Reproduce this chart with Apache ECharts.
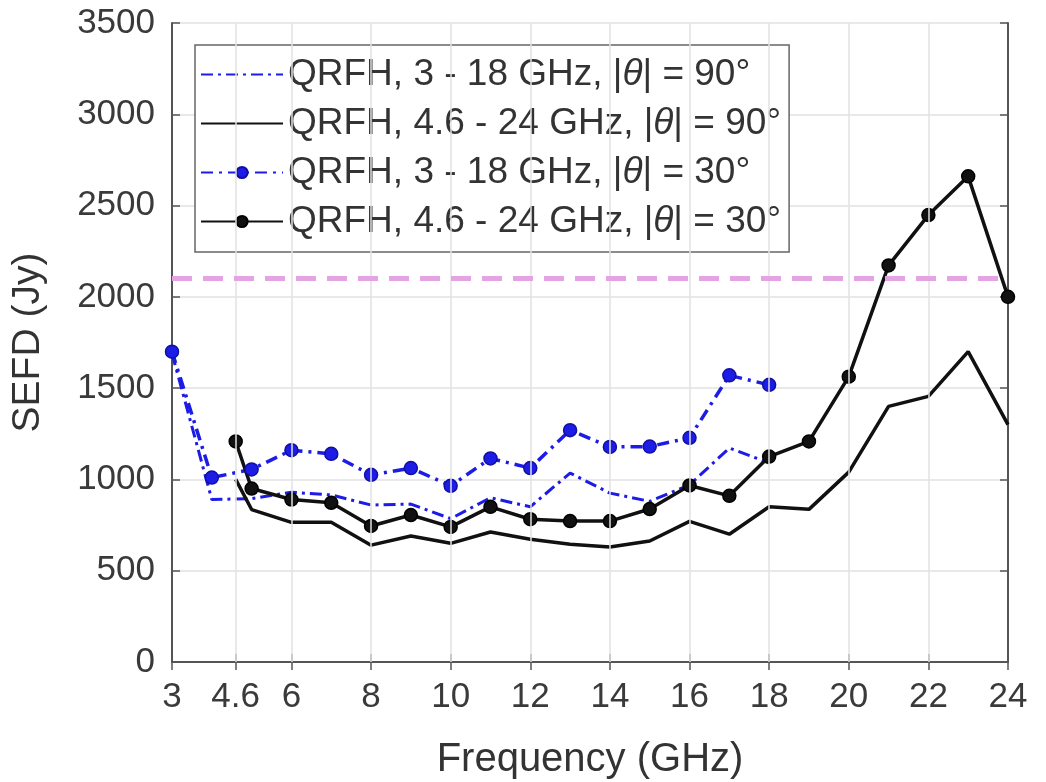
<!DOCTYPE html>
<html>
<head>
<meta charset="utf-8">
<script src="https://cdn.jsdelivr.net/npm/echarts@6/dist/echarts.min.js"></script>
<style>html,body{margin:0;padding:0;background:#fff}#c{width:1046px;height:782px}</style>
</head>
<body>
<div id="c"></div>
<script>
// ---- data ----
const freqA = [3, 4, 5, 6, 7, 8, 9, 10, 11, 12, 13, 14, 15, 16, 17, 18];
const freqB = [4.6, 5, 6, 7, 8, 9, 10, 11, 12, 13, 14, 15, 16, 17, 18, 19, 20, 21, 22, 23, 24];
const qrfhA90 = [1690, 890, 895, 930, 915, 860, 865, 785, 900, 850, 1035, 925, 880, 970, 1172, 1090];
const qrfhB90 = [1000, 835, 765, 765, 640, 690, 650, 712, 672, 645, 630, 663, 770, 700, 850, 836, 1040, 1400, 1455, 1700, 1300];
const qrfhA30 = [1700, 1010, 1055, 1160, 1140, 1025, 1062, 965, 1115, 1062, 1270, 1178, 1180, 1228, 1570, 1518];
const qrfhB30 = [1208, 950, 890, 872, 745, 805, 740, 850, 782, 772, 772, 838, 967, 910, 1125, 1208, 1563, 2172, 2448, 2660, 2000];
const xTicks = [3, 4.6, 6, 8, 10, 12, 14, 16, 18, 20, 22, 24];
const refLevel = 2100;
const names = [
  'QRFH, 3 - 18 GHz, |θ| = 90°',
  'QRFH, 4.6 - 24 GHz, |θ| = 90°',
  'QRFH, 3 - 18 GHz, |θ| = 30°',
  'QRFH, 4.6 - 24 GHz, |θ| = 30°'
];
const hasMarker = [false, false, true, true];

const zip = (xs, ys) => xs.map((x, i) => [x, ys[i]]);
const FONT = '"Liberation Sans", Arial, sans-serif';
const BLUE = '#1c1ce6';
const BLACK = '#111111';

const chart = echarts.init(document.getElementById('c'));
chart.setOption({
  animation: false,
  backgroundColor: '#ffffff',
  grid: { left: 172, right: 38, top: 23, bottom: 120, containLabel: false, outerBoundsMode: 'none' },
  xAxis: [{
    type: 'value', min: 3, max: 24,
    name: 'Frequency (GHz)', nameLocation: 'middle', nameGap: 78,
    nameTextStyle: { fontSize: 40, color: '#333', fontFamily: FONT },
    axisLine: { show: true, lineStyle: { color: '#555', width: 2 } },
    axisTick: { show: true, inside: true, length: 8, customValues: xTicks, lineStyle: { color: '#555', width: 1.5 } },
    axisLabel: { customValues: xTicks, fontSize: 35, color: '#3a3a3a', fontFamily: FONT, margin: 18,
      formatter: v => String(v) },
    splitLine: { show: false }
  }, {
    type: 'value', min: 3, max: 24, position: 'top',
    axisLine: { show: true, lineStyle: { color: '#555', width: 2 } },
    axisTick: { show: true, inside: true, length: 8, customValues: xTicks, lineStyle: { color: '#555', width: 1.5 } },
    axisLabel: { show: false },
    splitLine: { show: false }
  }],
  yAxis: [{
    type: 'value', min: 0, max: 3500, interval: 500,
    name: 'SEFD (Jy)', nameLocation: 'middle', nameGap: 124,
    nameTextStyle: { fontSize: 39, color: '#333', fontFamily: FONT },
    axisLine: { show: true, lineStyle: { color: '#555', width: 2 } },
    axisTick: { show: true, inside: true, length: 8, lineStyle: { color: '#555', width: 1.5 } },
    axisLabel: { fontSize: 35, color: '#3a3a3a', fontFamily: FONT, margin: 17, formatter: v => String(v) },
    splitLine: { show: true, lineStyle: { color: '#e2e2e2', width: 1.5 } }
  }, {
    type: 'value', min: 0, max: 3500, interval: 500, position: 'right',
    axisLine: { show: true, lineStyle: { color: '#555', width: 2 } },
    axisTick: { show: true, inside: true, length: 8, lineStyle: { color: '#555', width: 1.5 } },
    axisLabel: { show: false },
    splitLine: { show: false }
  }],
  legend: {
    data: names.map((n, i) => hasMarker[i] ? { name: n } : { name: n, itemStyle: { opacity: 0 } }),
    orient: 'vertical',
    left: 195, top: 45,
    backgroundColor: '#ffffff',
    borderColor: '#666', borderWidth: 1.5,
    padding: [11, 8, 12, 5],
    itemWidth: 82, itemHeight: 14, itemGap: 12,
    textStyle: { fontSize: 37, color: '#333', fontFamily: FONT,
      rich: {
        t: { fontSize: 37, color: '#333', fontFamily: FONT },
        i: { fontSize: 37, color: '#333', fontFamily: FONT, fontStyle: 'italic' }
      } },
    formatter: n => { const p = n.split('θ'); return '{t|' + p[0] + '}{i|θ}{t|' + p[1] + '}'; }
  },
  series: [
    {
      type: 'line', name: 'grid', data: [], silent: true, z: 1,
      markLine: {
        silent: true, symbol: ['none', 'none'], label: { show: false },
        lineStyle: { color: '#e2e2e2', width: 1.5, type: 'solid' },
        data: xTicks.filter(v => v > 3 && v < 24).map(v => ({ xAxis: v }))
      }
    },
    {
      type: 'line', name: names[0], data: zip(freqA, qrfhA90), symbol: 'none', z: 3,
      itemStyle: { color: BLUE },
      lineStyle: { color: BLUE, width: 3, type: [12, 5, 3, 5] }
    },
    {
      type: 'line', name: names[1], data: zip(freqB, qrfhB90), symbol: 'none', z: 3,
      itemStyle: { color: BLACK },
      lineStyle: { color: BLACK, width: 3.5, type: 'solid' }
    },
    {
      type: 'line', name: names[2], data: zip(freqA, qrfhA30), symbol: 'circle', symbolSize: 13, z: 4,
      itemStyle: { color: BLUE, borderColor: '#1010a0', borderWidth: 1.5 },
      lineStyle: { color: BLUE, width: 3.5, type: [12, 6, 3, 6] }
    },
    {
      type: 'line', name: names[3], data: zip(freqB, qrfhB30), symbol: 'circle', symbolSize: 13, z: 4,
      itemStyle: { color: BLACK, borderColor: '#000', borderWidth: 1.5 },
      lineStyle: { color: BLACK, width: 3.5, type: 'solid' }
    },
    {
      type: 'line', name: 'ref', data: [], silent: true, z: 5,
      markLine: {
        silent: true, symbol: ['none', 'none'], label: { show: false },
        lineStyle: { color: '#e4a4e4', width: 5, type: [20, 11] },
        data: [{ yAxis: refLevel }]
      }
    }
  ]
});
</script>
</body>
</html>
